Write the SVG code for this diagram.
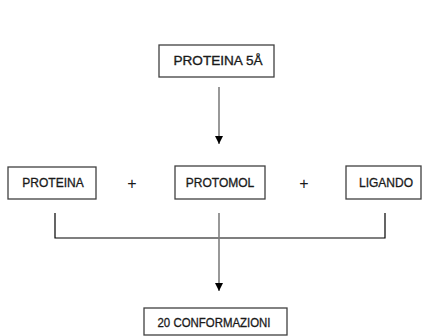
<svg xmlns="http://www.w3.org/2000/svg" width="422" height="336" viewBox="0 0 422 336">
<style>
.box{fill:#fff;stroke:#404040;stroke-width:1.3}
.t{font-family:"Liberation Sans",Arial,sans-serif;font-size:12px;fill:#1a1a1a;stroke:#1a1a1a;stroke-width:0.3;text-anchor:middle}
.p{font-family:"Liberation Sans",Arial,sans-serif;font-size:16px;fill:#1a1a1a;text-anchor:middle}
.arr{stroke:#7f7f7f;stroke-width:1.6;fill:none}
.br{stroke:#000;stroke-width:1.2;fill:none}
</style>
<defs>
<marker id="ah" viewBox="0 0 10 10" refX="10" refY="5" markerWidth="8" markerHeight="10" markerUnits="userSpaceOnUse" orient="auto">
<path d="M0,0 L10,5 L0,10 Z" fill="#000"/>
</marker>
</defs>
<rect width="422" height="336" fill="#fff"/>
<g id="n-proteina5a"><rect class="box" x="159" y="45" width="115" height="32"/><text class="t" x="218" y="65" textLength="89" lengthAdjust="spacingAndGlyphs">PROTEINA 5Å</text></g>
<g id="n-proteina"><rect class="box" x="8" y="167" width="88" height="32"/><text class="t" x="53" y="187">PROTEINA</text></g>
<g id="n-protomol"><rect class="box" x="175" y="166" width="90" height="33"/><text class="t" x="220" y="187">PROTOMOL</text></g>
<g id="n-ligando"><rect class="box" x="346" y="166" width="75" height="33"/><text class="t" x="386" y="187">LIGANDO</text></g>
<g id="n-conf"><rect class="box" x="144" y="308" width="143" height="27"/><text class="t" x="214" y="327" textLength="113" lengthAdjust="spacingAndGlyphs">20 CONFORMAZIONI</text></g>
<text class="p" x="132" y="189">+</text>
<text class="p" x="304" y="189">+</text>
<g id="connectors">
<line class="arr" x1="219" y1="87" x2="219" y2="144" marker-end="url(#ah)"/>
<path class="br" d="M55,213 V238 H385 V213"/>
<line class="arr" x1="219" y1="213" x2="219" y2="291" marker-end="url(#ah)"/>
</g>
</svg>
